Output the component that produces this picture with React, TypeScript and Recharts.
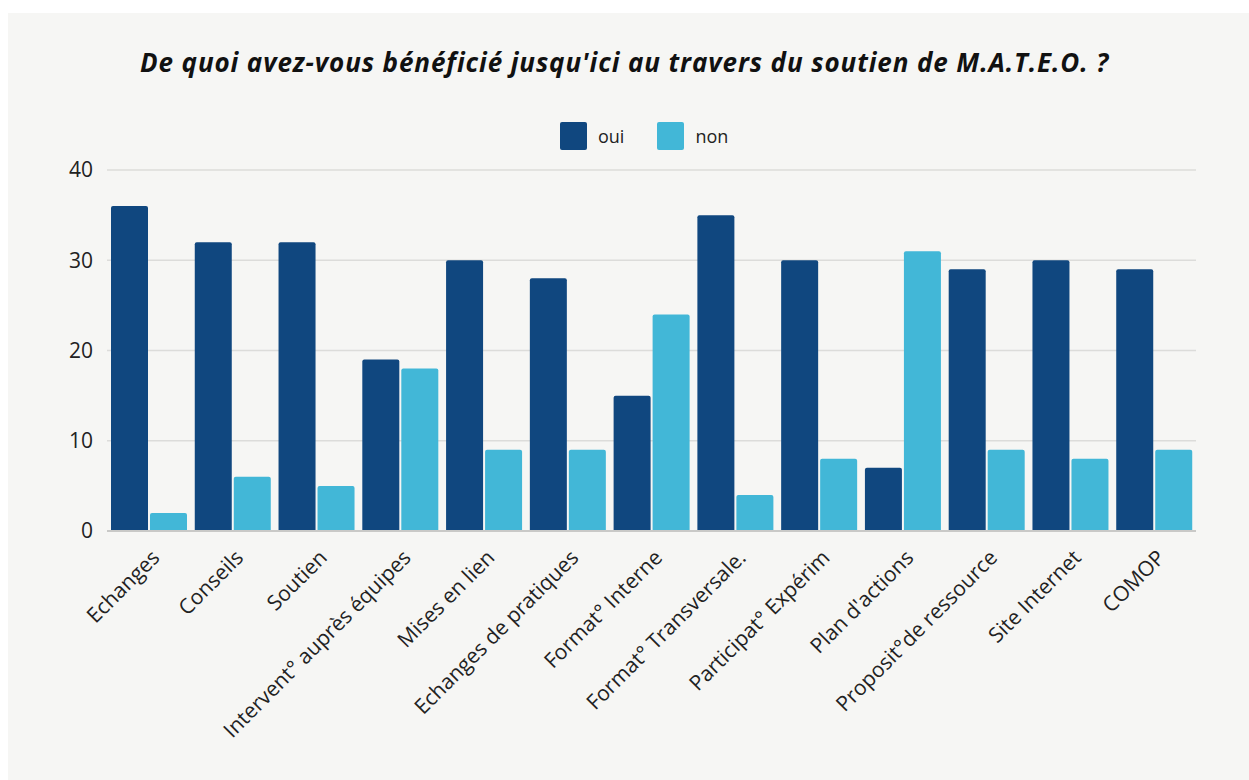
import { BarChart, Bar, XAxis, YAxis, CartesianGrid } from 'recharts';

const categories = [
  'Echanges',
  'Conseils',
  'Soutien',
  'Intervent° auprès équipes',
  'Mises en lien',
  'Echanges de pratiques',
  'Format° Interne',
  'Format° Transversale.',
  'Participat° Expérim',
  "Plan d'actions",
  'Proposit°de ressource',
  'Site Internet',
  'COMOP',
];
const ouiValues = [36, 32, 32, 19, 30, 28, 15, 35, 30, 7, 29, 30, 29];
const nonValues = [2, 6, 5, 18, 9, 9, 24, 4, 8, 31, 9, 8, 9];
const yTicks = [0, 10, 20, 30, 40];

const series = [
  { key: 'oui', color: '#10477f' },
  { key: 'non', color: '#42b7d7' },
];

const data = categories.map((name, i) => ({
  name,
  oui: ouiValues[i],
  non: nonValues[i],
}));

const FONT = '"Open Sans", "Noto Sans", sans-serif';

// rotated category label, end of text sits just right of the category centre
const AngledTick = ({ x, y, payload }: any) => {
  const tx = x + 12;
  const ty = y + 20;
  return (
    <text
      x={tx}
      y={ty}
      transform={`rotate(-45, ${tx}, ${ty})`}
      textAnchor="end"
      fontSize={21}
      fontFamily={FONT}
      fill="#222"
    >
      {payload.value}
    </text>
  );
};

export default function App() {
  return (
    <div style={{ position: 'absolute', left: 0, top: 0, width: 1249, height: 780, background: '#fff' }}>
      <div
        style={{
          position: 'absolute',
          left: 8,
          top: 13,
          width: 1241,
          height: 767,
          background: '#f6f6f4',
        }}
      />
      <div
        style={{
          position: 'absolute',
          left: 0,
          top: 44,
          width: 1249,
          textAlign: 'center',
          fontFamily: FONT,
          fontStyle: 'italic',
          fontWeight: 700,
          fontSize: 26,
          letterSpacing: 0.9,
          color: '#111',
        }}
      >
        De quoi avez-vous bénéficié jusqu'ici au travers du soutien de M.A.T.E.O. ?
      </div>
      <div
        style={{
          position: 'absolute',
          left: 560,
          top: 122,
          display: 'flex',
          alignItems: 'center',
          fontFamily: FONT,
          fontSize: 18,
          color: '#222',
        }}
      >
        {series.map((s) => (
          <div key={s.key} style={{ display: 'flex', alignItems: 'center', marginRight: 33 }}>
            <div style={{ width: 27, height: 28, background: s.color, borderRadius: 2, marginRight: 11 }} />
            <span>{s.key}</span>
          </div>
        ))}
      </div>
      <div style={{ position: 'absolute', left: 0, top: 0 }}>
        <BarChart
          width={1249}
          height={780}
          data={data}
          margin={{ top: 170, right: 53, bottom: 0, left: 0 }}
          barGap={2}
          barCategoryGap={4}
        >
          <CartesianGrid vertical={false} stroke="#dcdcda" strokeWidth={1.5} />
          <XAxis
            dataKey="name"
            interval={0}
            tickLine={false}
            axisLine={{ stroke: '#c9c9c7', strokeWidth: 2 }}
            tick={<AngledTick />}
            height={249}
          />
          <YAxis
            width={107}
            domain={[0, 40]}
            ticks={yTicks}
            axisLine={false}
            tickLine={false}
            tickSize={0}
            tickMargin={14}
            tick={{ fontSize: 21, fontFamily: FONT, fill: '#222' }}
          />
          {series.map((s) => (
            <Bar
              key={s.key}
              dataKey={s.key}
              fill={s.color}
              radius={[2, 2, 0, 0]}
              isAnimationActive={false}
            />
          ))}
        </BarChart>
      </div>
    </div>
  );
}
